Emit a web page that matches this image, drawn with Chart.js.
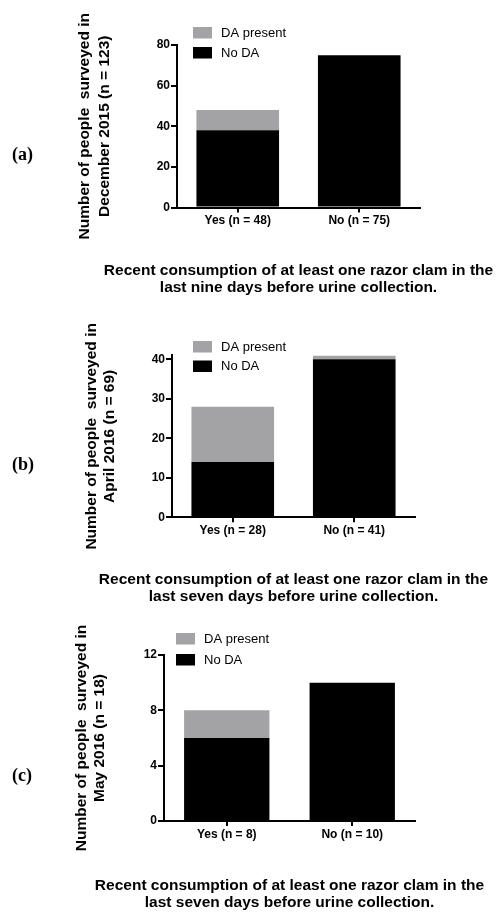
<!DOCTYPE html>
<html>

<head>
    <title>Razor clam consumption and DA</title>
    <style>
        body {
            margin: 0;
            background: #ffffff;
        }

        #pagina {
            position: relative;
            width: 496px;
            height: 913px;
        }

        #pagina canvas {
            position: absolute;
            left: 0;
        }

        .rotulo {
            position: absolute;
            left: 12px;
            font-family: "Liberation Serif", serif;
            font-weight: bold;
            font-size: 18px;
            line-height: 20px;
        }
    </style>
</head>

<body>
    <div id="pagina">
        <canvas id="graficoA" width="496" height="300" style="top:0px"></canvas>
        <canvas id="graficoB" width="496" height="310" style="top:300px"></canvas>
        <canvas id="graficoC" width="496" height="303" style="top:610px"></canvas>
        <div class="rotulo" style="top:144px">(a)</div>
        <div class="rotulo" style="top:454px">(b)</div>
        <div class="rotulo" style="top:765px">(c)</div>
    </div>

    <script src="https://cdn.jsdelivr.net/npm/chart.js"></script>

    <script>
        // Dados
        var categoriasA = ["Yes (n = 48)", "No (n = 75)"];
        var semDaA = [38, 75];
        var comDaA = [10, 0];
        var ticksYA = [0, 20, 40, 60, 80];

        var categoriasB = ["Yes (n = 28)", "No (n = 41)"];
        var semDaB = [14, 40];
        var comDaB = [14, 1];
        var ticksYB = [0, 10, 20, 30, 40];

        var categoriasC = ["Yes (n = 8)", "No (n = 10)"];
        var semDaC = [6, 10];
        var comDaC = [2, 0];
        var ticksYC = [0, 4, 8, 12];

        var nomesSeries = ["No DA", "DA present"];

        var tituloYA = ["Number of people  surveyed in", "December 2015 (n = 123)"];
        var tituloYB = ["Number of people  surveyed in", "April 2016 (n = 69)"];
        var tituloYC = ["Number of people  surveyed in", "May 2016 (n = 18)"];

        var tituloXA = ["Recent consumption of at least one razor clam in the", "last nine days before urine collection."];
        var tituloXB = ["Recent consumption of at least one razor clam in the", "last seven days before urine collection."];
        var tituloXC = tituloXB;

        var maxYA = 80;
        var maxYB = 41;
        var maxYC = 12;

        var CINZA = "#a3a3a6";
        var PRETO = "#000000";
        var FONTE = "'Liberation Sans', Arial, sans-serif";

        // Legenda e títulos dos eixos desenhados à mão (sem compressão de largura)
        var extrasPlugin = {
            id: "extras",
            afterDraw: function (chart) {
                var cfg = chart.options.plugins.extras;
                var area = chart.chartArea;
                var ctx = chart.ctx;
                var ds = chart.data.datasets.slice().reverse();
                ctx.save();

                // legenda
                ctx.font = "13px " + FONTE;
                ctx.textBaseline = "middle";
                ctx.textAlign = "left";
                ds.forEach(function (d, i) {
                    var y = cfg.legY + i * cfg.legGap;
                    ctx.fillStyle = d.backgroundColor;
                    ctx.fillRect(cfg.legX, y, 19, 11.5);
                    ctx.fillStyle = "#000";
                    ctx.fillText(d.label, cfg.legX + 28, y + 6);
                });

                // título do eixo x
                ctx.font = "bold 15.5px " + FONTE;
                ctx.textAlign = "center";
                var cx = (area.left + area.right) / 2;
                cfg.tituloX.forEach(function (linha, i) {
                    ctx.fillText(linha, cx, cfg.tituloXy + i * cfg.linhaX);
                });

                // título do eixo y (girado)
                var cy = (area.top + area.bottom) / 2;
                cfg.tituloY.forEach(function (linha, i) {
                    ctx.save();
                    ctx.translate(cfg.tituloYx + i * cfg.linhaY, cy);
                    ctx.rotate(-Math.PI / 2);
                    ctx.fillText(linha, 0, 0);
                    ctx.restore();
                });
                ctx.restore();
            }
        };

        // Cria um gráfico de barras empilhadas
        function criarGrafico(id, p) {
            var canvas = document.getElementById(id);
            var altura = canvas.height;
            var esquerda = 40;

            return new Chart(canvas.getContext("2d"), {
                type: "bar",
                plugins: [extrasPlugin],
                data: {
                    labels: p.categorias,
                    datasets: [
                        { label: nomesSeries[0], data: p.semDa, backgroundColor: PRETO },
                        { label: nomesSeries[1], data: p.comDa, backgroundColor: CINZA }
                    ]
                },
                options: {
                    responsive: false,
                    animation: false,
                    barPercentage: 1,
                    categoryPercentage: 0.68,
                    layout: {
                        padding: { left: esquerda, top: p.topo, right: 496 - p.direita, bottom: 0 }
                    },
                    plugins: {
                        legend: { display: false },
                        tooltip: { enabled: false },
                        extras: {
                            legX: p.legX, legY: p.legY, legGap: p.legGap,
                            tituloX: p.tituloX, tituloXy: p.tituloXy, linhaX: 17,
                            tituloY: p.tituloY, tituloYx: p.tituloYx, linhaY: p.linhaY
                        }
                    },
                    scales: {
                        x: {
                            stacked: true,
                            border: { color: "#000", width: 2 },
                            grid: { drawOnChartArea: false, offset: false, tickLength: 5, color: "#000", lineWidth: 2 },
                            ticks: { color: "#000", padding: 1, font: { family: FONTE, size: 12, weight: "bold" } },
                            afterFit: function (s) { s.height = altura - p.zero; }
                        },
                        y: {
                            stacked: true,
                            min: 0,
                            max: p.maxY,
                            border: { color: "#000", width: 2 },
                            grid: { drawOnChartArea: false, tickLength: 6, color: "#000", lineWidth: 2 },
                            ticks: { color: "#000", padding: 1, font: { family: FONTE, size: 12, weight: "bold" } },
                            afterBuildTicks: function (s) {
                                s.ticks = p.ticksY.map(function (v) { return { value: v }; });
                            },
                            afterFit: function (s) { s.width = p.eixoX - esquerda; }
                        }
                    }
                }
            });
        }

        window.onload = function () {
            criarGrafico("graficoA", {
                categorias: categoriasA, semDa: semDaA, comDa: comDaA,
                tituloY: tituloYA, tituloX: tituloXA, maxY: maxYA, ticksY: ticksYA,
                eixoX: 177, direita: 420, topo: 45, zero: 207.5,
                tituloYx: 85, linhaY: 20, tituloXy: 271,
                legX: 193, legY: 27, legGap: 20
            });
            criarGrafico("graficoB", {
                categorias: categoriasB, semDa: semDaB, comDa: comDaB,
                tituloY: tituloYB, tituloX: tituloXB, maxY: maxYB, ticksY: ticksYB,
                eixoX: 172, direita: 415, topo: 55.4, zero: 217.3,
                tituloYx: 92, linhaY: 18, tituloXy: 279.5,
                legX: 193, legY: 41, legGap: 19.5
            });
            criarGrafico("graficoC", {
                categorias: categoriasC, semDa: semDaC, comDa: comDaC,
                tituloY: tituloYC, tituloX: tituloXC, maxY: maxYC, ticksY: ticksYC,
                eixoX: 164, direita: 415, topo: 45, zero: 211,
                tituloYx: 82, linhaY: 18, tituloXy: 276,
                legX: 176, legY: 23, legGap: 21
            });
        };
    </script>
</body>

</html>
